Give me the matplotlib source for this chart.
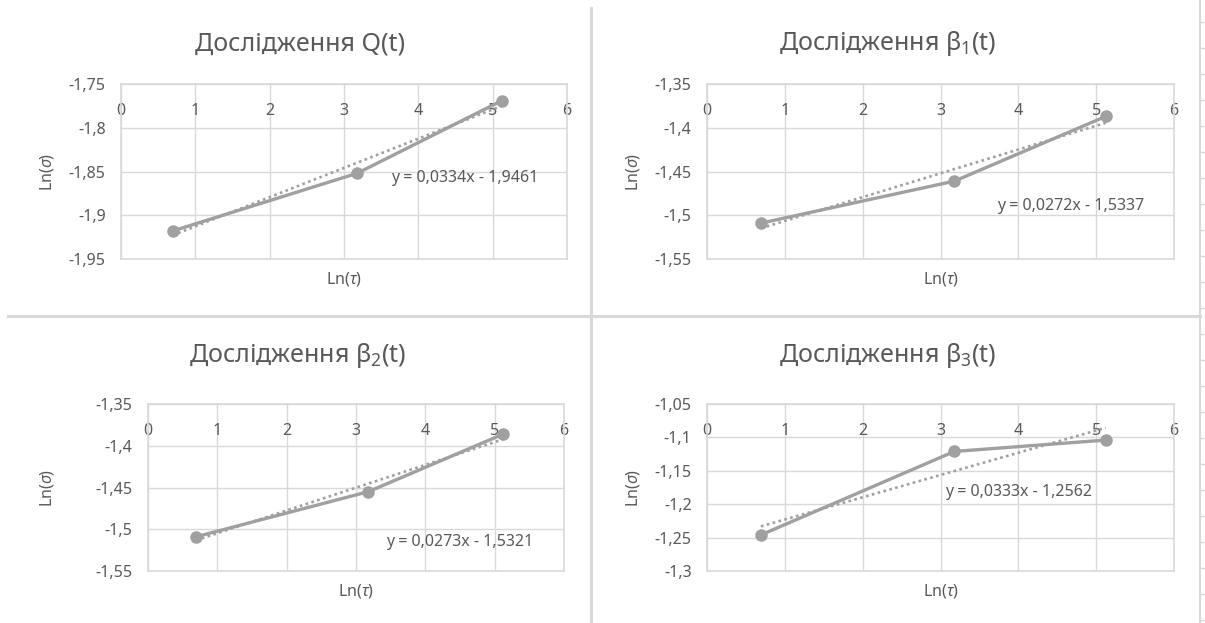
import matplotlib.pyplot as plt
import numpy as np

plt.rcParams['font.family'] = ['Noto Sans', 'DejaVu Sans']
plt.rcParams['mathtext.fontset'] = 'custom'
plt.rcParams['mathtext.rm'] = 'Noto Sans'
plt.rcParams['mathtext.it'] = 'Noto Sans:italic'

# data
ln_tau = [0.693, 3.178, 5.124]

titles = ['Дослідження Q(t)', 'Дослідження β$_1$(t)',
          'Дослідження β$_2$(t)', 'Дослідження β$_3$(t)']
q_vals = [-1.918, -1.852, -1.769]
b1_vals = [-1.509, -1.461, -1.387]
b2_vals = [-1.509, -1.455, -1.386]
b3_vals = [-1.246, -1.121, -1.104]

slopes = [0.0334, 0.0272, 0.0273, 0.0333]
intercepts = [-1.9461, -1.5337, -1.5321, -1.2562]
eq_labels = ['y = 0,0334x - 1,9461', 'y = 0,0272x - 1,5337',
             'y = 0,0273x - 1,5321', 'y = 0,0333x - 1,2562']
eq_pos = [(4.62, -1.857), (4.67, -1.490), (4.50, -1.515), (4.00, -1.182)]

y_ticks = [[-1.75, -1.8, -1.85, -1.9, -1.95],
           [-1.35, -1.4, -1.45, -1.5, -1.55],
           [-1.35, -1.4, -1.45, -1.5, -1.55],
           [-1.05, -1.1, -1.15, -1.2, -1.25, -1.3]]
x_ticks = [0, 1, 2, 3, 4, 5, 6]

series = [q_vals, b1_vals, b2_vals, b3_vals]

W, H = 1205, 623
# plot boxes in pixels: x0, y0(top), x1, y1(bottom)
boxes = [(121, 84, 567, 259), (707, 84, 1174, 259),
         (148, 404, 564, 571), (707, 404, 1174, 571)]
title_pos = [(300, 44), (888, 44), (298, 356), (888, 356)]
ylab_x = [47, 633, 47, 633]

text_c = '#595959'
grid_c = '#d9d9d9'
line_c = '#a0a0a0'

fig = plt.figure(figsize=(W / 100, H / 100), dpi=100)

for i in range(4):
    x0, y0, x1, y1 = boxes[i]
    ax = fig.add_axes([x0 / W, 1 - y1 / H, (x1 - x0) / W, (y1 - y0) / H])
    yt = y_ticks[i]
    ax.set_xlim(0, 6)
    ax.set_ylim(min(yt), max(yt))
    ax.set_xticks(x_ticks)
    ax.set_yticks(yt)
    ax.set_xticklabels([str(t) for t in x_ticks])
    ax.set_yticklabels([('%g' % t).replace('.', ',') for t in yt])
    ax.grid(True, color=grid_c, linewidth=1)
    ax.set_axisbelow(True)
    for s in ax.spines.values():
        s.set_color(grid_c)
        s.set_linewidth(1.2)
    ax.tick_params(axis='x', length=0, labelbottom=False, labeltop=True,
                   pad=-25, labelsize=11.5, labelcolor=text_c)
    ax.tick_params(axis='y', length=0, pad=11, labelsize=11.5, labelcolor=text_c)

    xs = np.array(ln_tau)
    trend = slopes[i] * xs + intercepts[i]
    ax.plot(xs, trend, color=line_c, linewidth=1.9, linestyle=(0, (1, 1.3)),
            zorder=3)
    ax.plot(xs, series[i], color=line_c, linewidth=2.4, marker='o',
            markersize=8, zorder=4, clip_on=False)
    ax.text(eq_pos[i][0], eq_pos[i][1], eq_labels[i], color=text_c,
            fontsize=11.5, ha='center', va='center')

    fig.text(title_pos[i][0] / W, 1 - title_pos[i][1] / H, titles[i],
             color=text_c, fontsize=18, ha='center', va='center')
    fig.text(ylab_x[i] / W, 1 - ((y0 + y1) / 2) / H, 'Ln($\\sigma$)',
             color=text_c, fontsize=11.5, rotation=90, ha='center', va='center')
    fig.text(((x0 + x1) / 2) / W, 1 - (y1 + 20) / H, 'Ln($\\tau$)',
             color=text_c, fontsize=11.5, ha='center', va='center')

# sheet separators
fig.add_artist(plt.Line2D([591 / W, 591 / W], [0, 1 - 8 / H], color=grid_c,
                          linewidth=2.2, transform=fig.transFigure))
fig.add_artist(plt.Line2D([8 / W, 1200 / W], [1 - 316 / H, 1 - 316 / H],
                          color=grid_c, linewidth=2.2, transform=fig.transFigure))
fig.add_artist(plt.Line2D([1200 / W, 1200 / W], [0, 1], color=grid_c,
                          linewidth=1.5, transform=fig.transFigure))
for yy in range(22, H, 26):
    fig.add_artist(plt.Line2D([1200 / W, 1205 / W], [1 - yy / H, 1 - yy / H],
                              color=grid_c, linewidth=1, transform=fig.transFigure))

fig.savefig('out.png', dpi=100)
